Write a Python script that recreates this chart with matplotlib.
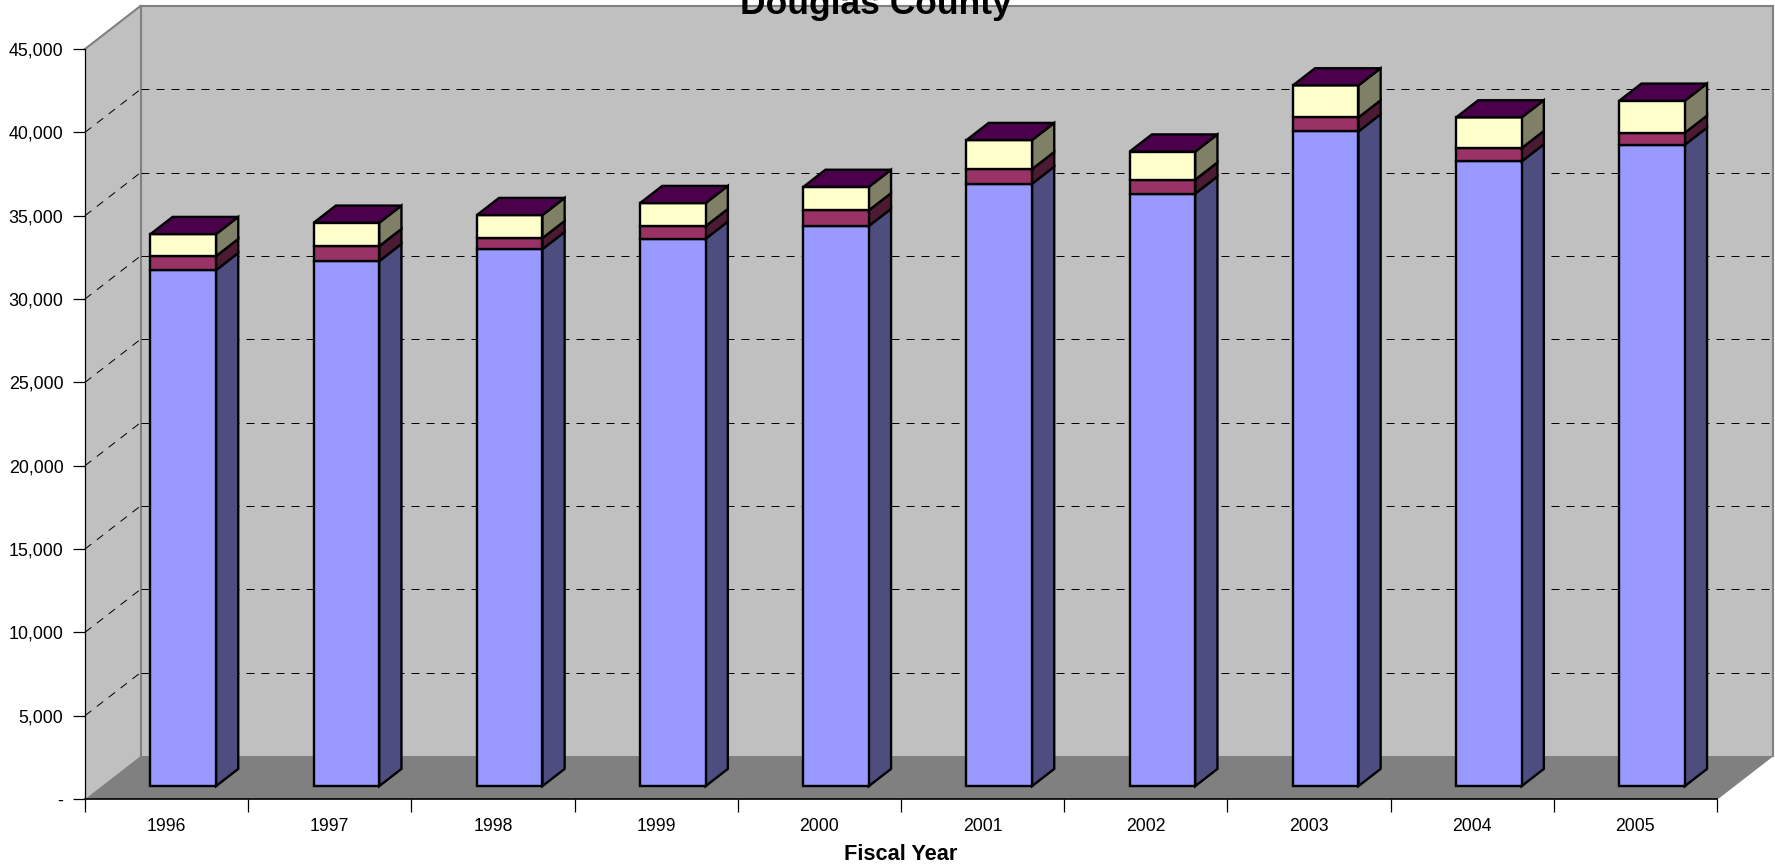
import matplotlib
matplotlib.use('Agg')
import matplotlib.pyplot as plt
from matplotlib.ticker import FuncFormatter

plt.rcParams['font.family'] = ['Liberation Sans', 'DejaVu Sans']

years = ['1996', '1997', '1998', '1999', '2000', '2001', '2002', '2003', '2004', '2005']
base_vals = [30960, 31500, 32220, 32840, 33610, 36140, 35550, 39280, 37480, 38480]
mid_vals = [840, 900, 660, 760, 940, 880, 840, 840, 800, 720]
top_vals = [1320, 1400, 1380, 1380, 1400, 1740, 1680, 1920, 1840, 1920]
y_ticks = [0, 5000, 10000, 15000, 20000, 25000, 30000, 35000, 40000, 45000]

# (front, side) colours per stacked series
blue = ('#9999FF', '#4D4D80')
pink = ('#993366', '#4D1A33')
cream = ('#FFFFCC', '#808066')
top_col = '#4B004B'
wall_col = '#C0C0C0'
floor_col = '#808080'

fig = plt.figure(figsize=(17.75, 8.65), dpi=100)
ax = fig.add_axes([85/1775, 1 - 799/865, 1632/1775, 750/865])
ax.patch.set_visible(False)

# fake 3D: depth 0..1 slides a point back along this offset
DEPTH_X = 55.5 / 163.2
DEPTH_Y = 43 * 45000 / 750


def pt(x, y, d):
    return x + d*DEPTH_X, y + d*DEPTH_Y


def face(points, color, edge='none', lw=0, z=1):
    xs = [p[0] for p in points]
    ys = [p[1] for p in points]
    ax.fill(xs, ys, facecolor=color, edgecolor=edge, linewidth=lw, clip_on=False,
            zorder=z, joinstyle='miter')


def line(a, b, color='#808080', lw=1.5, ls='-', z=1.2):
    ax.plot([a[0], b[0]], [a[1], b[1]], color=color, lw=lw, ls=ls, clip_on=False, zorder=z)


n = len(years)
top = y_ticks[-1]

# walls and floor
face([pt(0, 0, 1), pt(n, 0, 1), pt(n, top, 1), pt(0, top, 1)], wall_col)
face([pt(0, 0, 0), pt(0, 0, 1), pt(0, top, 1), pt(0, top, 0)], wall_col)
face([pt(0, 0, 0), pt(n, 0, 0), pt(n, 0, 1), pt(0, 0, 1)], floor_col)

line(pt(0, top, 0), pt(0, top, 1))
line(pt(0, top, 1), pt(n, top, 1))
line(pt(0, 0, 1), pt(0, top, 1))
line(pt(n, 0, 1), pt(n, top, 1))
line(pt(n, 0, 0), pt(n, 0, 1), lw=1)

# gridlines
dash = (0, (8, 7))
for v in y_ticks[1:-1]:
    line(pt(0, v, 0), pt(0, v, 1), color='black', lw=0.72, ls=dash)
    line(pt(0, v, 1), pt(n, v, 1), color='black', lw=0.72, ls=dash)

# bars
bar_w = 0.402
d_front = 0.30
d_back = 0.70
edge_lw = 1.7
for i in range(n):
    x0 = i + 0.299
    x1 = x0 + bar_w
    bottom = 0
    for vals, cols in [(base_vals, blue), (mid_vals, pink), (top_vals, cream)]:
        h = bottom + vals[i]
        face([pt(x1, bottom, d_front), pt(x1, bottom, d_back), pt(x1, h, d_back), pt(x1, h, d_front)],
             cols[1], 'black', edge_lw, 2)
        face([pt(x0, bottom, d_front), pt(x1, bottom, d_front), pt(x1, h, d_front), pt(x0, h, d_front)],
             cols[0], 'black', edge_lw, 2)
        bottom = h
    face([pt(x0, bottom, d_front), pt(x1, bottom, d_front), pt(x1, bottom, d_back), pt(x0, bottom, d_back)],
         top_col, 'black', edge_lw, 2)

ax.set_xlim(0, n)
ax.set_ylim(0, top)
ax.spines['top'].set_visible(False)
ax.spines['right'].set_visible(False)
ax.spines['left'].set_linewidth(0.9)
ax.spines['bottom'].set_linewidth(1.2)

ax.set_yticks(y_ticks)
ax.yaxis.set_major_formatter(FuncFormatter(lambda v, p: '-' if v == 0 else f'{int(v):,}'))
ax.tick_params(axis='y', length=9, width=0.9, pad=6.5, labelsize=12.9)

ax.set_xticks(range(n + 1))
ax.set_xticklabels([])
ax.tick_params(axis='x', which='major', length=9, width=0.9)
ax.set_xticks([i + 0.5 for i in range(n)], minor=True)
ax.set_xticklabels(years, minor=True)
ax.tick_params(axis='x', which='minor', length=0, pad=14, labelsize=12.7)

ax.set_xlabel('Fiscal Year', fontsize=15.7, fontweight='bold', labelpad=6)
ax.set_title('Douglas County', fontsize=25.5, fontweight='bold', x=0.4847, pad=25)

fig.savefig('out.png', dpi=100, facecolor='white')
